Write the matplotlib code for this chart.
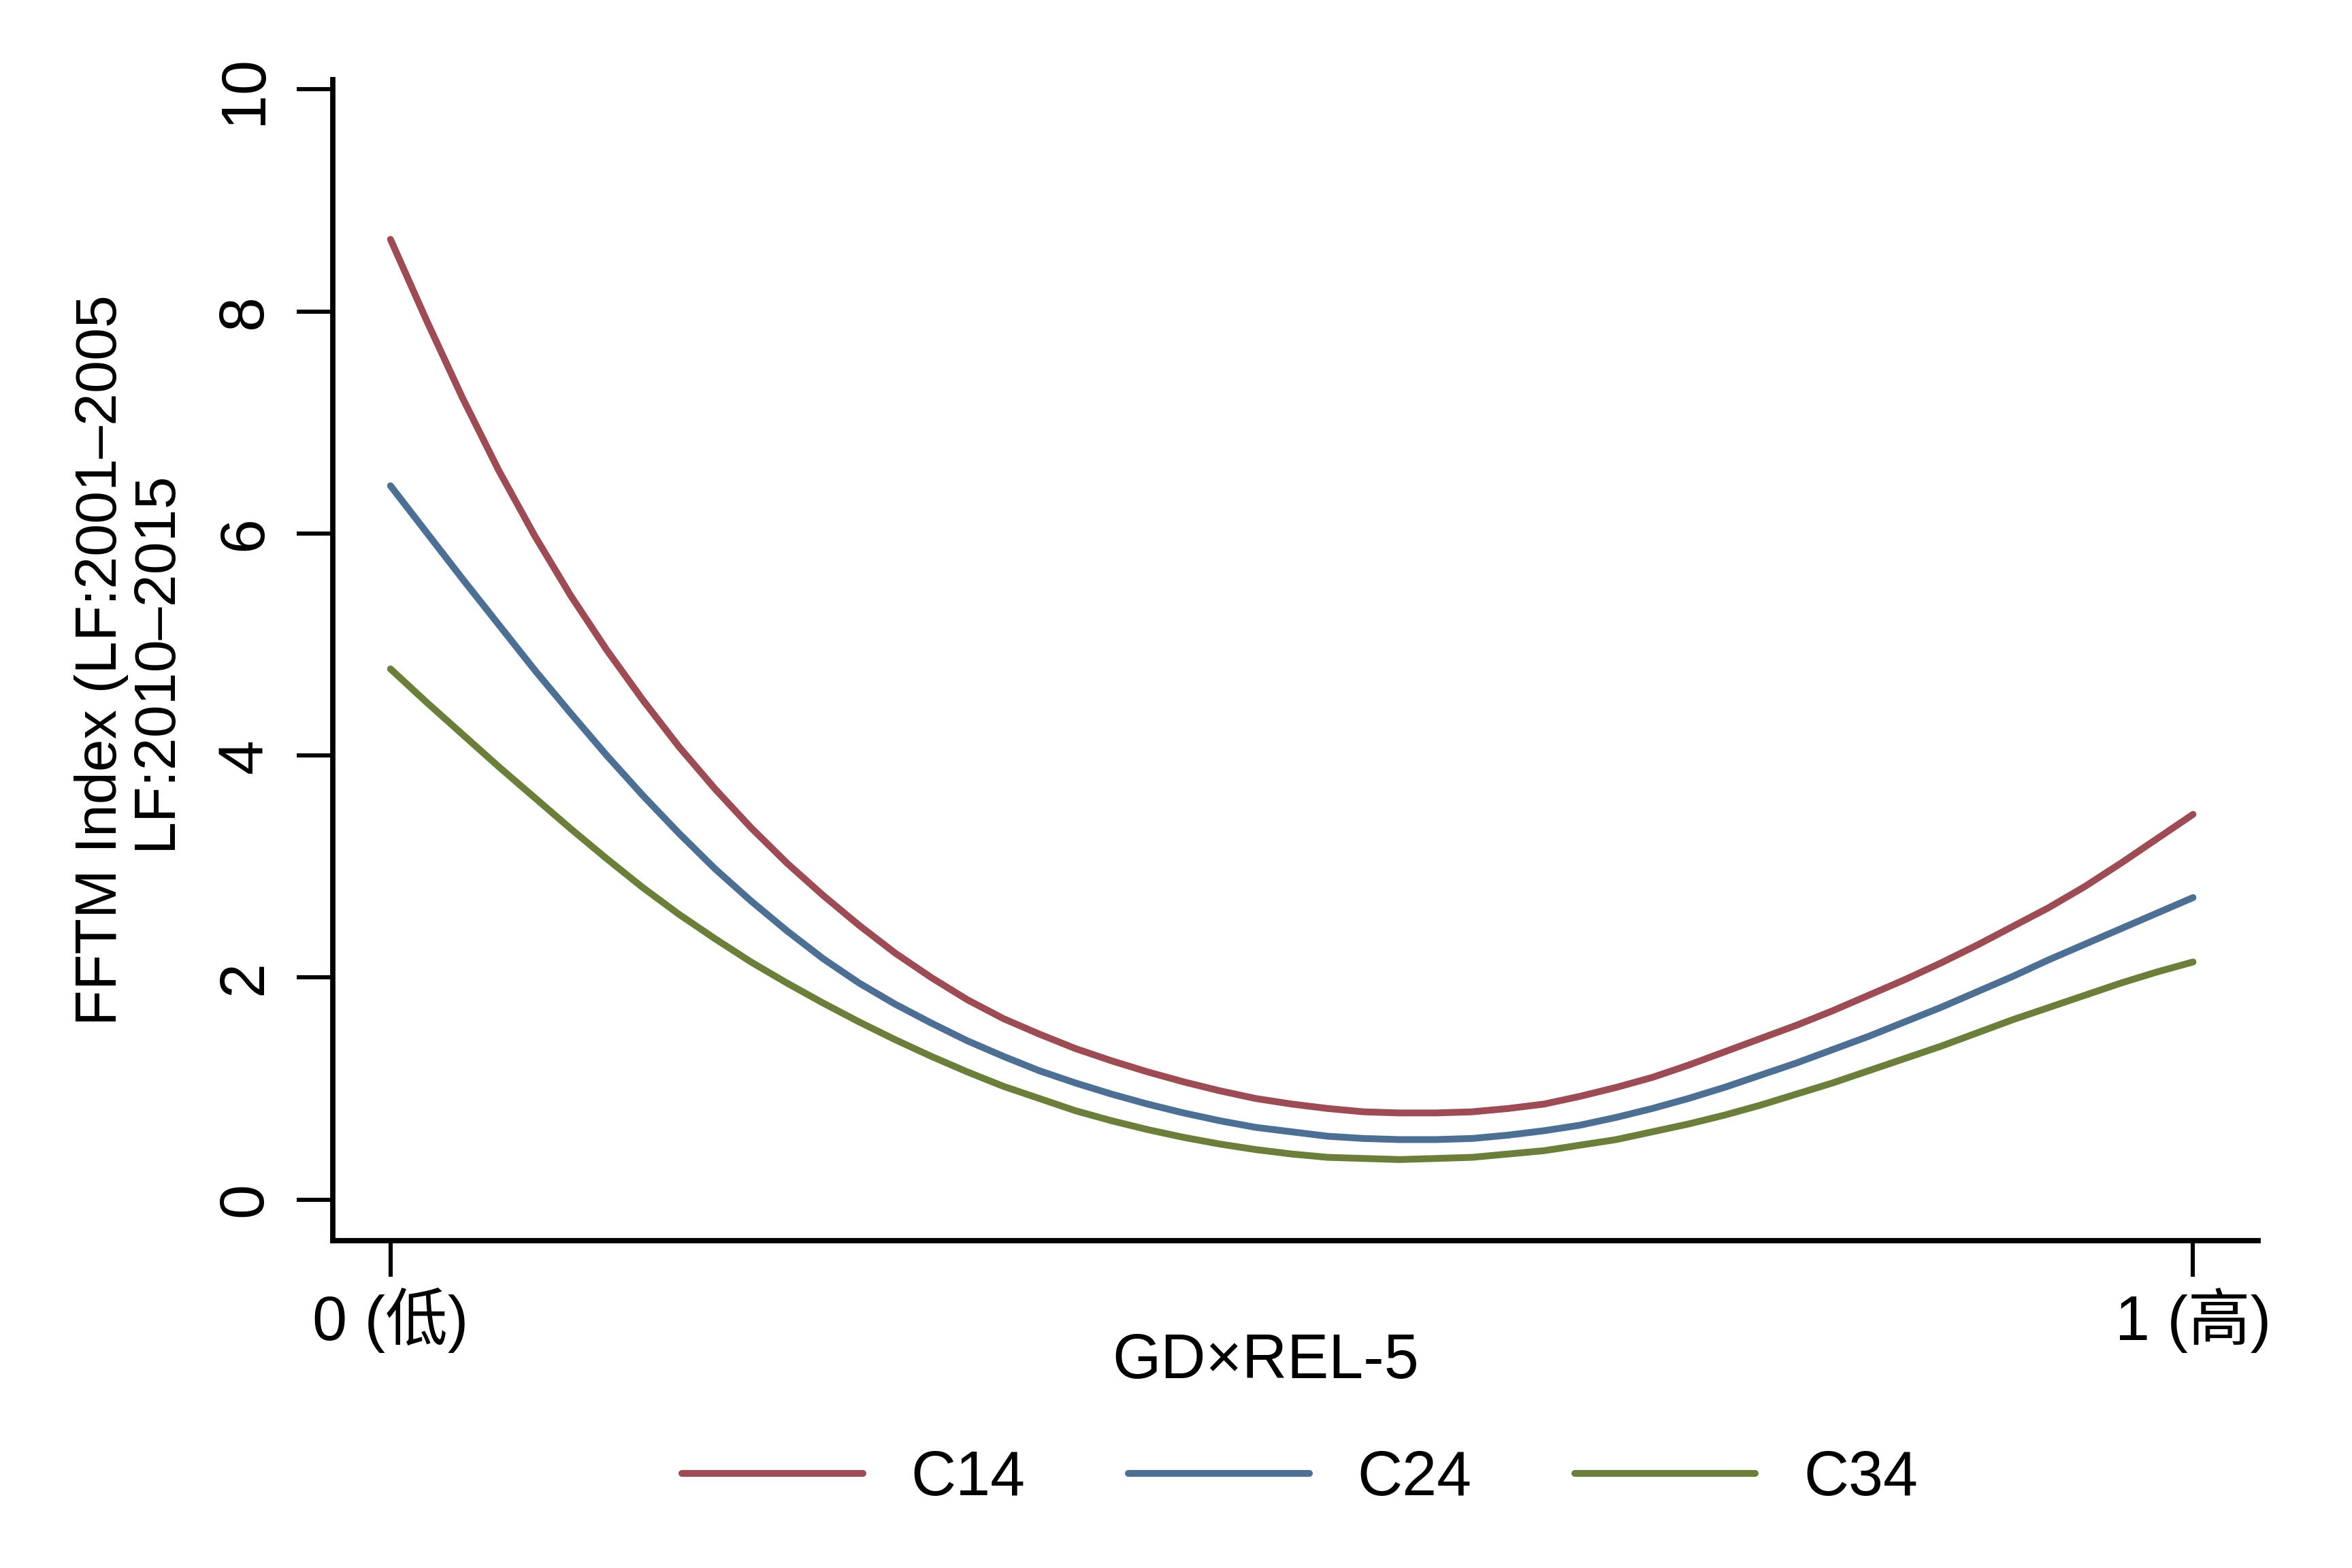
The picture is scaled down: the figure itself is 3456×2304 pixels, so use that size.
import numpy as np
import matplotlib
matplotlib.use("Agg")
import matplotlib.pyplot as plt

# ─── DATA ────────────────────────────────────────────────────────────────────
x_vals = [0.00, 0.02, 0.04, 0.06, 0.08, 0.10, 0.12, 0.14, 0.16, 0.18, 0.20,
          0.22, 0.24, 0.26, 0.28, 0.30, 0.32, 0.34, 0.36, 0.38, 0.40,
          0.42, 0.44, 0.46, 0.48, 0.50, 0.52, 0.54, 0.56, 0.58, 0.60,
          0.62, 0.64, 0.66, 0.68, 0.70, 0.72, 0.74, 0.76, 0.78, 0.80,
          0.82, 0.84, 0.86, 0.88, 0.90, 0.92, 0.94, 0.96, 0.98, 1.00]

c14 = [8.65, 7.92, 7.22, 6.57, 5.98, 5.44, 4.95, 4.50, 4.08, 3.70, 3.35,
       3.03, 2.74, 2.47, 2.22, 2.00, 1.80, 1.63, 1.49, 1.36, 1.25,
       1.15, 1.06, 0.98, 0.91, 0.86, 0.82, 0.79, 0.78, 0.78, 0.79,
       0.82, 0.86, 0.93, 1.01, 1.10, 1.21, 1.33, 1.45, 1.57, 1.70,
       1.84, 1.98, 2.13, 2.29, 2.46, 2.63, 2.82, 3.03, 3.25, 3.47]

c24 = [6.43, 6.01, 5.59, 5.18, 4.77, 4.38, 4.00, 3.64, 3.30, 2.98, 2.69,
       2.42, 2.17, 1.95, 1.76, 1.59, 1.43, 1.29, 1.16, 1.05, 0.95,
       0.86, 0.78, 0.71, 0.65, 0.61, 0.57, 0.55, 0.54, 0.54, 0.55,
       0.58, 0.62, 0.67, 0.74, 0.82, 0.91, 1.01, 1.12, 1.23, 1.35,
       1.47, 1.60, 1.73, 1.87, 2.01, 2.16, 2.30, 2.44, 2.58, 2.72]

c34 = [4.78, 4.48, 4.19, 3.90, 3.62, 3.34, 3.07, 2.81, 2.57, 2.35, 2.14,
       1.95, 1.77, 1.60, 1.44, 1.29, 1.15, 1.02, 0.91, 0.80, 0.71,
       0.63, 0.56, 0.50, 0.45, 0.41, 0.38, 0.37, 0.36, 0.37, 0.38,
       0.41, 0.44, 0.49, 0.54, 0.61, 0.68, 0.76, 0.85, 0.95, 1.05,
       1.16, 1.27, 1.38, 1.50, 1.62, 1.73, 1.84, 1.95, 2.05, 2.14]

series_names = ["C14", "C24", "C34"]
series_colors = ["#9d4b55", "#4d6f94", "#6b7f3b"]

y_ticks = [0, 2, 4, 6, 8, 10]
x_ticks = [0, 1]
x_tick_labels = ["0 (低)", "1 (高)"]
x_label = "GD×REL-5"
y_label = "FFTM Index (LF:2001–2005\nLF:2010–2015"
# ──────────────────────────────────────────────────────────────────────────────

plt.rcParams["font.family"] = ["Liberation Sans", "Noto Sans CJK SC", "DejaVu Sans"]

fig = plt.figure(figsize=(17.28, 11.52), dpi=200)
ax = fig.add_axes([0.1415, 0.2088, 0.8185, 0.7405])

for vals, name, col in zip([c14, c24, c34], series_names, series_colors):
    ax.plot(x_vals, vals, color=col, linewidth=3.6, label=name,
            solid_capstyle="round", solid_joinstyle="round")

ax.set_xlim(-0.032, 1.036)
ax.set_ylim(-0.37, 10.09)

for side in ["top", "right"]:
    ax.spines[side].set_visible(False)
for side in ["left", "bottom"]:
    ax.spines[side].set_linewidth(2.8)
    ax.spines[side].set_capstyle("projecting")

ax.set_yticks(y_ticks)
ax.set_xticks(x_ticks)
ax.set_xticklabels(x_tick_labels)
ax.tick_params(axis="both", direction="out", length=19, width=2.2,
               labelsize=33)
ax.tick_params(axis="y", pad=12)
ax.tick_params(axis="x", pad=6)
for lab in ax.get_yticklabels():
    lab.set_rotation(90)
    lab.set_va("center")
    lab.set_ha("right")

ax.set_xlabel(x_label, fontsize=33)
ax.xaxis.set_label_coords(0.4844, -0.1046)
ax.xaxis.label.set_va("center")

ax.set_ylabel(y_label, fontsize=31, linespacing=1.0)
ax.yaxis.set_label_coords(-0.106, 0.5)
ax.yaxis.label.set_va("center")

fig.legend(loc="center", bbox_to_anchor=(0.5527, 0.057), ncol=3,
           frameon=False, fontsize=33, handlelength=2.9, handletextpad=0.77,
           columnspacing=1.65)

plt.savefig("out.png", dpi=200)
